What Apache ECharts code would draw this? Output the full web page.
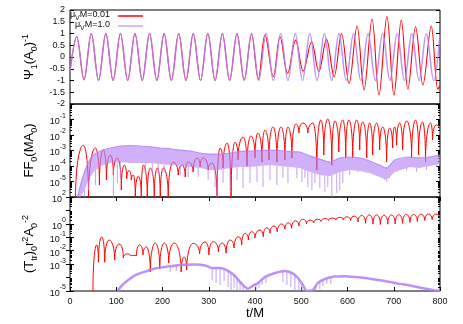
<!DOCTYPE html>
<html><head><meta charset="utf-8">
<script src="https://cdn.jsdelivr.net/npm/echarts@6/dist/echarts.min.js"></script>
<style>html,body{margin:0;padding:0;background:#fff}#c{width:463px;height:324px}</style>
</head><body><div id="c"></div>
<script>
// ---------------- data ----------------
const seriesNames = ['μVM=0.01', 'μVM=1.0'];
const xTicks = [0, 100, 200, 300, 400, 500, 600, 700, 800];
const psiTicks = [-2, -1.5, -1, -0.5, 0, 0.5, 1, 1.5, 2];

// Top panel: Psi_1 (extrema)
const psiPurple = [[0,-0.62],[14.5,0.86],[30.2,-0.97],[46,1.0],[61.7,-1.0],[77.5,1.0],[93.2,-1.0],[109,1.0],[124.7,-1.0],[140.5,1.0],[156.2,-1.0],[172,1.0],[187.7,-1.0],[203.5,1.0],[219.2,-1.0],[235,1.0],[250.7,-1.0],[266.5,1.0],[282.2,-1.0],[298,1.0],[313.7,-1.0],[329.5,1.0],[345.2,-1.0],[361,1.0],[376.7,-1.0],[392.5,1.0],[408.2,-1.0],[424,1.0],[439.7,-1.0],[455.5,1.0],[471.2,-1.0],[487,1.0],[502.7,-1.0],[518.5,1.0],[534.2,-1.0],[550,1.0],[565.7,-1.0],[581.5,1.0],[597.2,-1.0],[613,1.0],[628.7,-1.0],[644.5,1.0],[660.2,-1.0],[676,1.0],[691.7,-1.0],[707.5,1.0],[723.2,-1.0],[739,1.0],[754.7,-1.0],[770.5,1.0],[786.2,-1.0],[800,0.97]];
const psiRed = [[0,-0.62],[14.5,0.86],[30.2,-0.97],[46,1.0],[61.7,-1.0],[77.5,1.0],[93.2,-1.0],[109,1.0],[124.7,-1.0],[140.5,1.0],[156.2,-1.0],[172,1.0],[187.7,-1.0],[203.5,1.0],[219.2,-1.0],[235,1.0],[250.7,-1.0],[266.5,1.0],[282.2,-1.0],[298,1.0],[313.7,-1.0],[329.5,1.0],[345.2,-1.0],[361,1.0],[376.7,-0.98],[392.5,0.98],[407.1,-0.95],[421.6,0.95],[439.5,-0.84],[454,0.86],[470.5,-0.69],[487.8,0.72],[504.2,-0.6],[522.3,0.65],[538,-0.62],[554.6,0.75],[571,-0.84],[587,1.0],[603.3,-1.12],[620.6,1.32],[635.7,-1.4],[653,1.62],[668,-1.62],[685.3,1.72],[700.4,-1.62],[716.3,1.57],[730.6,-1.37],[747.2,1.29],[763,-1.19],[781,1.32],[795.3,-1.37],[800,-1.2]];

// Middle panel: FF_0 (M A_0) -- alternating dips / humps
const ffRed = [[12,1e-6],[29,2.2e-3],[40,1e-6],[55,1.45e-3],[63.6,5.9e-6],[72.2,1.07e-3],[78.7,1.26e-5],[87.3,5.1e-4],[93.8,2.6e-5],[102.4,3.3e-4],[111,2.8e-6],[117.5,1.15e-4],[122.5,1.5e-5],[128,5e-5],[132.5,1.26e-5],[137,2.6e-5],[141.2,1e-6],[147.7,2.2e-5],[154.2,1e-6],[158.5,1.15e-4],[167.1,1e-6],[173.6,7.4e-5],[182.2,1e-6],[188.7,7.4e-5],[195.2,1e-6],[201.6,7.4e-5],[212.4,1e-6],[223.2,1.8e-4],[234,2.6e-5],[242.6,1.15e-4],[249.1,1.95e-5],[255.5,1.8e-4],[266.3,4.1e-5],[274.9,3.3e-4],[281.4,8.7e-5],[287.9,3.3e-4],[298.7,5.5e-5],[307.3,1.55e-4],[318,1e-6],[324.5,1.45e-3],[331,7.4e-5],[339.6,3.0e-3],[348.3,1e-6],[356.9,3.5e-3],[363.4,2.45e-4],[374.1,7.4e-3],[382.7,1e-4],[391.4,8.7e-3],[400,3.3e-4],[406.5,1.35e-2],[415.1,1.8e-4],[421.6,2.1e-2],[430.2,2.45e-4],[438.8,3.3e-2],[447.4,1.8e-4],[456.1,3.3e-2],[464.7,2.45e-4],[471.2,3.3e-2],[479.8,3.3e-4],[488.4,5.1e-2],[494.9,1.35e-2],[503.5,5.9e-2],[514.3,1.35e-2],[525.1,5.9e-2],[533.7,5.5e-5],[542.3,9.3e-2],[548.8,5.1e-4],[557.4,0.107],[566.1,1.15e-4],[572.5,8e-2],[581.2,8e-4],[589.8,9.3e-2],[596.2,3.3e-4],[602.7,9.3e-2],[611.3,3.3e-4],[619.9,9.3e-2],[626.4,1.07e-3],[632.9,6.9e-2],[641.5,3.3e-4],[648,5.9e-2],[654.4,5.1e-4],[663.1,5.9e-2],[669.5,1.07e-3],[676,3.3e-2],[684.6,1.8e-4],[691.1,2.8e-2],[697.6,1.45e-3],[701.9,3.3e-2],[706.2,2.2e-3],[712.7,5.9e-2],[719.2,1.07e-3],[727.8,8e-2],[738.6,3.3e-4],[747.2,9.3e-2],[753.7,5.1e-4],[762.3,6.9e-2],[768.7,1.8e-4],[779.5,5.9e-2],[783.8,4.8e-3],[792.5,4.5e-2],[800,2.1e-2]];
// purple: fast oscillation drawn as a band (upper / lower envelope) plus downward spikes
const ffPurT  = [16.2,22.6,31.3,39.9,50.7,65.8,87.3,108.9,130.5,152,173.6,195.2,216.7,238.3,259.9,281.4,303,324.5,346.1,367.7,389.2,410.8,432.4,453.9,475.5,497,518.6,540.2,561.7,583.3,604.9,626.4,648,669.5,684.6,701.9,734.2,755.8,777.4,800];
const ffPurUp = [1e-6,5.9e-6,4.1e-5,1.8e-4,5.1e-4,9.3e-4,1.45e-3,1.95e-3,2.1e-3,1.95e-3,1.7e-3,1.45e-3,1.26e-3,1.07e-3,9.3e-4,6.9e-4,5.9e-4,5.9e-4,6.9e-4,8.7e-4,9.3e-4,1.0e-3,1.07e-3,1.0e-3,8.7e-4,8e-4,4.5e-4,2.8e-4,1.8e-4,3.3e-4,3.8e-4,3.3e-4,2.1e-4,1.15e-4,7.4e-5,2.45e-4,3.8e-4,3.3e-4,3.8e-4,5.1e-4];
const ffPurLo = [1e-6,1e-6,2.8e-6,1.26e-5,4.1e-5,1e-4,1.55e-4,1.8e-4,1.55e-4,1.55e-4,1.55e-4,1.35e-4,1.15e-4,1e-4,8.7e-5,7.4e-5,5.5e-5,5.5e-5,7.4e-5,8.7e-5,8.7e-5,1e-4,1.15e-4,1e-4,8.7e-5,7.4e-5,4.1e-5,2.6e-5,2.2e-5,4.1e-5,5.5e-5,4.8e-5,3.5e-5,1.95e-5,1.26e-5,4.1e-5,8.7e-5,7.4e-5,1e-4,1.35e-4];
const ffPurSpikes = [[31.3,1e-6],[39.9,2.8e-6],[55,5.9e-6],[93.8,1e-6],[102.4,8e-6],[109,1.7e-5],[162.8,4.1e-5],[177.9,2.6e-5],[190.8,3.5e-5],[203.8,4.1e-5],[238.3,2.6e-5],[255.5,1.95e-5],[277.1,1.95e-5],[298.7,1.26e-5],[313.7,4.4e-6],[318,1e-6],[331,8e-6],[346.1,2.8e-6],[361.2,1.26e-5],[374.1,3.8e-6],[389.2,8e-6],[404.3,9.3e-6],[417.3,4.4e-6],[432.4,1.26e-5],[447.4,5.9e-6],[460.4,1.7e-5],[471.2,8e-6],[490.6,1.7e-5],[501.4,9.3e-6],[507.9,1.7e-5],[514.3,4.4e-6],[523,2.8e-6],[529.5,8e-6],[540.2,3.8e-6],[551,2.1e-6],[557.4,4.4e-6],[566.1,1e-6],[576.8,1.8e-6],[583.3,2.8e-6],[589.8,8e-6],[604.9,2.6e-5],[622.1,4.1e-5],[641.5,3.5e-5],[663.1,2.6e-5],[680.3,1.26e-5],[684.6,9.3e-6],[691.1,1.7e-5],[706.2,4.1e-5],[727.8,5.5e-5],[749.4,4.1e-5],[771,5.5e-5],[792.5,8.7e-5]];

// Bottom panel: (T_tr)_0 r^2 A_0^-2
const trrRed = [[49.6,1e-5],[57.8,0.027],[61.5,0.0014],[68.6,0.105],[75,0.0014],[84.5,0.063],[96.6,0.002],[106.1,0.032],[115.4,0.0029],[124,0.0058],[131.1,0.0041],[138.4,0.0045],[143.4,0.0041],[150.5,0.027],[157.8,0.0048],[165,0.019],[173.6,2.6e-4],[184.4,0.037],[194.1,4.4e-4],[203.8,0.037],[213.5,1.2e-3],[225.3,0.037],[240.4,2.6e-4],[246.9,3.4e-3],[252.3,3.6e-4],[266.3,0.035],[280.3,0.006],[292.2,0.045],[300.4,0.005],[310.1,0.047],[320.9,0.0085],[328.8,0.037],[337.5,0.0065],[346.1,0.063],[354.7,0.016],[364,0.11],[371.3,0.027],[378.4,0.2],[385.6,0.063],[392.9,0.26],[400,0.089],[410.8,0.35],[417.9,0.11],[425.2,0.51],[432.4,0.2],[441,0.69],[448.1,0.26],[457.6,0.98],[464.7,0.4],[471.8,1.2],[479.1,0.47],[487.8,1.7],[494.9,0.69],[504.1,2.2],[511.5,0.98],[519,1.9],[527,1.2],[535,2.2],[543,1.5],[551,2.5],[559,1.8],[567,2.7],[575,2.0],[583,3.0],[591,2.0],[599,3.3],[607,1.8],[615,3.8],[623,1.4],[631,4.2],[639,1.1],[647,4.6],[655,0.95],[663,4.6],[671,0.9],[679,4.4],[687,0.95],[695,4.6],[703,1.0],[711,4.8],[719,1.1],[727,5.0],[735,1.3],[743,5.0],[751,1.5],[759,5.2],[767,1.8],[775,5.4],[783,2.1],[791,5.4],[800,2.8]];
const trrPurple = [[102.4,1e-5],[113.2,2.8e-5],[126.1,6.6e-5],[141.2,1.55e-4],[162.8,2.8e-4],[184.4,4.8e-4],[205.9,6.2e-4],[238.3,8.7e-4],[270.6,9.3e-4],[292.2,7.9e-4],[307.3,5.1e-4],[324.5,5.1e-4],[341.8,3.1e-4],[356.9,1.3e-4],[367.7,4.7e-5],[385,1.5e-5],[395.7,2.5e-5],[406.5,4e-5],[421.6,1.1e-4],[443.2,2.2e-4],[464.7,3.1e-4],[479.8,2.2e-4],[492.8,9.3e-5],[503.5,2.8e-5],[512.2,1e-5],[525.1,1.2e-5],[535.9,4e-5],[551,7.8e-5],[572.5,1.2e-4],[594.1,1.26e-4],[615.6,1.1e-4],[637.2,9.3e-5],[658.8,7.2e-5],[680.3,5.6e-5],[701.9,4e-5],[723.4,3e-5],[745,2.2e-5],[766.6,1.55e-5],[788.1,1.1e-5],[800,1e-5]];
const trrPurSpikes = [[216.7,2.6e-4],[229.7,3.1e-4],[307.3,6.6e-5],[315.9,4e-5],[324.5,2.8e-5],[333.2,5.6e-5],[341.8,2e-5],[348.3,1e-5],[354.7,1.7e-5],[361.2,1e-5],[367.7,1e-5],[374.1,1e-5],[402.2,1e-5],[408.7,1.7e-5],[415.1,2.8e-5],[423.7,4e-5],[460.4,4.7e-5],[469,2.8e-5],[477.6,2e-5],[486.3,1e-5],[494.9,1e-5],[501.4,1e-5],[531.6,1e-5],[540.2,1.4e-5],[546.7,2.4e-5],[555.3,3.4e-5],[563.9,3.4e-5]];

// ---------------- chart ----------------
const FONT = '"Liberation Sans", Arial, Helvetica, sans-serif';
const RED = '#ff0000';
const PURPLE = '#b27ef6';
const TXT = '#111';

function logLabel(v) {
  const e = Math.round(Math.log10(v));
  return '{b|10}{s|' + e + '}';
}
const logRich = {
  b: {fontSize: 9, fontFamily: FONT, color: TXT, lineHeight: 14, verticalAlign: 'bottom'},
  s: {fontSize: 7, fontFamily: FONT, color: TXT, lineHeight: 8, verticalAlign: 'top'}
};
const nameRich = {
  a: {fontSize: 13, fontFamily: FONT, color: '#000', lineHeight: 18, verticalAlign: 'middle'},
  b: {fontSize: 9, fontFamily: FONT, color: '#000', lineHeight: 9, verticalAlign: 'bottom'},
  c: {fontSize: 9, fontFamily: FONT, color: '#000', lineHeight: 9, verticalAlign: 'top'}
};
function minorVals(lo, hi) {
  const out = [];
  for (let e = lo; e < hi; e++) for (let m = 2; m <= 9; m++) out.push(m * Math.pow(10, e));
  return out;
}
function interpLog(ts, vs, t) {
  if (t <= ts[0]) return vs[0];
  for (let i = 1; i < ts.length; i++) {
    if (t <= ts[i]) {
      const f = (t - ts[i - 1]) / (ts[i] - ts[i - 1]);
      const a = Math.log10(vs[i - 1]), b = Math.log10(vs[i]);
      return Math.pow(10, a + (b - a) * f);
    }
  }
  return vs[vs.length - 1];
}

const tickStyle = {lineStyle: {color: '#000', width: 1}};
const xBase = {type: 'value', min: 0, max: 800, interval: 100, axisLine: {show: false}, splitLine: {show: false}};

const xAxis = [
  Object.assign({}, xBase, {gridIndex: 0, axisTick: {show: false}, axisLabel: {show: false}}),
  Object.assign({}, xBase, {gridIndex: 1, axisTick: {show: false}, axisLabel: {show: false}}),
  Object.assign({}, xBase, {gridIndex: 2, position: 'bottom',
    axisTick: Object.assign({show: true, inside: true, length: 4}, tickStyle),
    axisLabel: {show: true, fontSize: 9, color: TXT, fontFamily: FONT, margin: 6,
      formatter: v => { const i = xTicks.indexOf(v); return i >= 0 ? String(xTicks[i]) : ''; }},
    name: 't/M', nameLocation: 'middle', nameGap: 15,
    nameTextStyle: {fontSize: 13, color: '#000', fontFamily: FONT}}),
  Object.assign({}, xBase, {gridIndex: 2, position: 'top',
    axisTick: Object.assign({show: true, inside: true, length: 4}, tickStyle), axisLabel: {show: false}})
];

function logAxis(grid, min, max, pos, opts) {
  return Object.assign({
    type: 'log', logBase: 10, gridIndex: grid, min: min, max: max, position: pos,
    splitNumber: Math.round(Math.log10(max / min)),
    axisLine: {show: false}, splitLine: {show: false},
    axisTick: Object.assign({show: true, inside: true, length: 4}, tickStyle),
    axisLabel: {show: false}
  }, opts || {});
}
function minorAxis(grid, min, max, pos, lo, hi) {
  return {
    type: 'log', logBase: 10, gridIndex: grid, min: min, max: max, position: pos,
    axisLine: {show: false}, splitLine: {show: false}, axisLabel: {show: false},
    axisTick: Object.assign({show: true, inside: true, length: 2, customValues: minorVals(lo, hi)}, tickStyle)
  };
}

const yAxis = [
  {type: 'value', gridIndex: 0, min: -2, max: 2, interval: 0.5, position: 'left',
   axisLine: {show: false}, splitLine: {show: false},
   axisTick: Object.assign({show: true, inside: true, length: 4}, tickStyle),
   axisLabel: {fontSize: 9, color: TXT, fontFamily: FONT, margin: 5, showMinLabel: true, showMaxLabel: true,
     formatter: v => { const i = psiTicks.indexOf(v); return i >= 0 ? String(psiTicks[i]) : ''; }},
   name: '{a|Ψ}{b|1}{a|(A}{b|0}{a|)}{c|-1}', nameLocation: 'middle', nameRotate: 90, nameGap: 24,
   nameTextStyle: {fontSize: 13, fontFamily: FONT, rich: nameRich}},
  {type: 'value', gridIndex: 0, min: -2, max: 2, interval: 0.5, position: 'right',
   axisLine: {show: false}, splitLine: {show: false},
   axisTick: Object.assign({show: true, inside: true, length: 4}, tickStyle), axisLabel: {show: false}},
  logAxis(1, 1e-6, 1, 'left', {
    axisLabel: {show: true, margin: 4, showMinLabel: true, showMaxLabel: true, rich: logRich,
      formatter: v => { const e = Math.round(Math.log10(v)); return (e <= -6 || e >= 0) ? '' : logLabel(v); }},
    name: '{a|FF}{b|0}{a|(MA}{b|0}{a|)}', nameLocation: 'middle', nameRotate: 90, nameGap: 26,
    nameTextStyle: {fontSize: 13, fontFamily: FONT, rich: nameRich}}),
  logAxis(1, 1e-6, 1, 'right'),
  logAxis(2, 1e-5, 100, 'left', {
    axisLabel: {show: true, margin: 4, showMinLabel: true, showMaxLabel: true, rich: logRich,
      formatter: v => logLabel(v)},
    name: '{a|(T}{b|tr}{a|)}{b|0}{a|r}{c|2}{a|A}{b|0}{c|-2}', nameLocation: 'middle', nameRotate: 90, nameGap: 26,
    nameTextStyle: {fontSize: 13, fontFamily: FONT, rich: nameRich}}),
  logAxis(2, 1e-5, 100, 'right'),
  minorAxis(1, 1e-6, 1, 'left', -6, 0),
  minorAxis(1, 1e-6, 1, 'right', -6, 0),
  minorAxis(2, 1e-5, 100, 'left', -5, 2),
  minorAxis(2, 1e-5, 100, 'right', -5, 2)
];

// line through alternating dips/humps: round hump tops, steep cusp-like dips
function cuspSeries(name, xi, yi, pts, color, width) {
  return {
    name: name, type: 'custom', xAxisIndex: xi, yAxisIndex: yi, clip: true, silent: true,
    data: pts, encode: {x: 0, y: 1},
    renderItem: function (params, api) {
      if (params.dataIndex !== 0) return null;
      const P = pts.map(p => api.coord(p));
      const K = 0.55;
      let d = 'M' + P[0][0] + ' ' + P[0][1];
      for (let i = 0; i < P.length - 1; i++) {
        const a = P[i], b = P[i + 1];
        let c1, c2;
        if (b[1] < a[1]) { // rising to a hump
          c1 = [a[0], a[1] + K * (b[1] - a[1])];
          c2 = [b[0] - K * (b[0] - a[0]), b[1]];
        } else {           // falling into a dip
          c1 = [a[0] + K * (b[0] - a[0]), a[1]];
          c2 = [b[0], b[1] - K * (b[1] - a[1])];
        }
        d += ' C' + c1[0] + ' ' + c1[1] + ' ' + c2[0] + ' ' + c2[1] + ' ' + b[0] + ' ' + b[1];
      }
      return {type: 'path', shape: {pathData: d},
        style: {stroke: color, fill: 'none', lineWidth: width}};
    }
  };
}

function spikeSeries(xi, yi, data, envT, envV, color) {
  return {
    type: 'custom', xAxisIndex: xi, yAxisIndex: yi, clip: true, silent: true,
    data: data, encode: {x: 0, y: 1},
    renderItem: function (params, api) {
      const t = api.value(0), bot = api.value(1);
      const top = interpLog(envT, envV, t);
      const p1 = api.coord([t, top]), p2 = api.coord([t, bot]);
      return {type: 'line', shape: {x1: p1[0], y1: p1[1], x2: p2[0], y2: p2[1]},
        style: {stroke: color, lineWidth: 1}};
    }
  };
}

const series = [
  {name: seriesNames[0], type: 'line', xAxisIndex: 0, yAxisIndex: 0, data: psiRed, smooth: 0.36,
   symbol: 'none', color: RED, lineStyle: {color: RED, width: 1.1}},
  {name: seriesNames[1], type: 'line', xAxisIndex: 0, yAxisIndex: 0, data: psiPurple, smooth: 0.36,
   symbol: 'none', color: PURPLE, lineStyle: {color: PURPLE, width: 1.5, opacity: 0.85}},

  cuspSeries(seriesNames[0], 1, 2, ffRed, RED, 1),
  {name: seriesNames[1], type: 'custom', xAxisIndex: 1, yAxisIndex: 2, clip: true, silent: true,
   data: ffPurT.map((t, i) => [t, ffPurUp[i], ffPurLo[i]]), encode: {x: 0, y: [1, 2]},
   renderItem: function (params, api) {
     if (params.dataIndex !== 0) return null;
     const up = ffPurT.map((t, i) => api.coord([t, ffPurUp[i]]));
     const lo = ffPurT.map((t, i) => api.coord([t, ffPurLo[i]])).reverse();
     return {type: 'polygon', shape: {points: up.concat(lo)},
       style: {fill: 'rgba(178,128,246,0.62)'}};
   }},
  {name: seriesNames[1], type: 'line', xAxisIndex: 1, yAxisIndex: 2,
   data: ffPurT.map((t, i) => [t, ffPurUp[i]]), smooth: 0.2,
   symbol: 'none', color: PURPLE, lineStyle: {color: PURPLE, width: 1.2, opacity: 0.8}},
  spikeSeries(1, 2, ffPurSpikes, ffPurT, ffPurLo, 'rgba(178,126,246,0.75)'),

  cuspSeries(seriesNames[0], 2, 4, trrRed, RED, 1),
  {name: seriesNames[1], type: 'line', xAxisIndex: 2, yAxisIndex: 4, data: trrPurple, smooth: 0.3,
   symbol: 'none', color: PURPLE, lineStyle: {color: PURPLE, width: 2.5, opacity: 0.85}},
  spikeSeries(2, 4, trrPurSpikes, trrPurple.map(p => p[0]), trrPurple.map(p => p[1]), 'rgba(178,126,246,0.75)')
];

const legendText = {
  a: {fontSize: 9, fontFamily: FONT, color: TXT, lineHeight: 12, verticalAlign: 'top'},
  s: {fontSize: 7, fontFamily: FONT, color: TXT, lineHeight: 7, verticalAlign: 'bottom'},
  e: {fontSize: 9, fontFamily: FONT, color: TXT, lineHeight: 12, verticalAlign: 'top', padding: [0, 3, 0, 0]}
};
function legendFmt(name) {
  const rest = name.replace('μV', '');
  return '{a|μ}{s|V}{e|' + rest + '}';
}
const legend = [0, 1].map(i => ({
  data: [{name: seriesNames[i], icon: 'rect', itemStyle: {color: i === 0 ? RED : 'rgba(178,126,246,0.7)'}}],
  right: 320, top: 10 + i * 10, orient: 'vertical', align: 'right',
  padding: 0, itemWidth: 25, itemHeight: 1.5, selectedMode: false,
  textStyle: {fontSize: 9, fontFamily: FONT, color: TXT, rich: legendText},
  formatter: legendFmt
}));

const chart = echarts.init(document.getElementById('c'), null, {renderer: 'canvas'});
chart.setOption({
  animation: false,
  backgroundColor: '#fff',
  grid: [
    {left: 70, top: 10, width: 370, height: 94, show: true, borderColor: '#000', borderWidth: 1},
    {left: 70, top: 104, width: 370, height: 93, show: true, borderColor: '#000', borderWidth: 1},
    {left: 70, top: 197, width: 370, height: 94, show: true, borderColor: '#000', borderWidth: 1}
  ],
  legend: legend,
  xAxis: xAxis,
  yAxis: yAxis,
  series: series
});
</script>
</body></html>
